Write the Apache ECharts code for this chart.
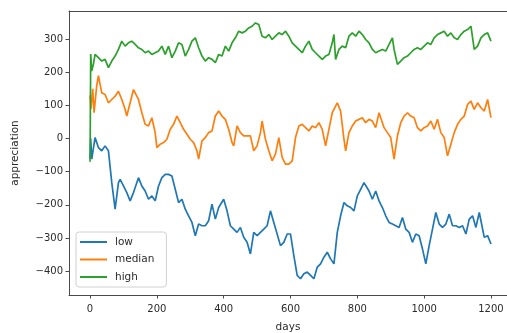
<!DOCTYPE html>
<html><head><meta charset="utf-8">
<script src="https://cdn.jsdelivr.net/npm/echarts@6/dist/echarts.min.js"></script>
<style>html,body{margin:0;padding:0;background:#fff}#c{width:507px;height:333px}</style>
</head><body><div id="c"></div>
<script>
const seriesNames = ['low', 'median', 'high'];
const xTicks = [0, 200, 400, 600, 800, 1000, 1200];
const yTicks = [-400, -300, -200, -100, 0, 100, 200, 300];

const lowDays = [0,2,5,15,25,35,45,55,65,75,85,90,100,110,120,130,145,155,165,175,185,195,205,215,225,235,245,255,265,275,285,295,305,315,325,335,345,355,365,375,385,400,410,420,430,440,450,460,470,480,490,500,510,520,530,540,550,560,570,580,590,600,610,620,630,640,650,660,670,680,690,700,710,720,730,740,750,760,770,780,790,800,810,820,825,835,845,855,865,875,885,895,905,915,925,935,945,955,965,975,985,995,1005,1015,1025,1035,1045,1055,1065,1075,1085,1095,1105,1115,1125,1135,1145,1155,1165,1170,1180,1190,1200];
const lowValues = [-60,0,-62,3,-27,-37,-22,-37,-133,-213,-133,-123,-143,-163,-188,-163,-118,-143,-158,-183,-173,-188,-143,-118,-108,-108,-113,-153,-193,-183,-213,-233,-253,-293,-258,-263,-263,-248,-198,-243,-208,-183,-218,-263,-273,-283,-268,-298,-313,-348,-283,-293,-283,-273,-263,-218,-253,-288,-323,-313,-288,-288,-353,-413,-423,-408,-403,-413,-423,-388,-378,-358,-343,-363,-378,-283,-233,-193,-203,-208,-218,-173,-153,-133,-128,-158,-183,-158,-188,-208,-233,-253,-258,-263,-268,-238,-273,-283,-313,-288,-293,-333,-378,-323,-273,-223,-258,-268,-258,-228,-263,-263,-268,-263,-288,-243,-233,-268,-223,-248,-298,-293,-318];

const medianDays = [0,3,8,12,20,25,35,45,55,65,75,85,95,105,110,120,130,135,145,155,165,175,185,195,200,210,220,230,240,250,260,270,280,290,300,310,320,325,335,345,355,365,375,385,395,405,415,425,430,440,450,460,470,480,490,500,510,515,525,535,545,555,565,575,585,595,605,615,625,635,645,655,665,675,685,695,705,715,725,735,740,750,760,765,775,785,795,805,815,825,835,845,855,865,870,880,890,900,910,920,930,940,950,960,970,980,990,1000,1010,1020,1030,1040,1050,1060,1070,1080,1090,1100,1110,1120,1130,1140,1150,1160,1170,1180,1190,1200];
const medianValues = [130,90,150,78,160,190,138,133,108,118,128,143,118,88,68,108,148,153,118,78,43,38,63,18,-27,-17,-12,-2,28,43,68,48,28,13,-2,-12,-37,-62,-7,3,18,23,68,83,68,58,28,-12,-22,38,18,8,8,8,-37,-22,18,53,-2,-37,-67,-47,3,-57,-77,-77,-67,3,38,43,33,23,38,33,48,28,-22,28,78,98,108,83,-2,-37,18,38,53,58,63,48,58,53,33,78,83,33,18,3,-62,8,48,68,78,68,63,33,23,33,38,53,28,58,18,3,-52,-17,18,43,58,68,103,113,88,108,93,83,118,63];

const highDays = [0,2,5,10,15,25,35,45,55,65,75,85,95,105,115,125,135,145,155,165,175,185,195,205,215,225,235,245,255,265,275,285,295,305,315,325,335,345,355,365,375,385,395,405,415,425,435,445,455,465,475,485,495,505,515,525,535,545,555,565,575,585,595,605,615,625,635,645,655,665,675,685,695,705,715,725,730,735,745,755,765,775,785,795,805,815,825,835,845,855,865,875,885,895,905,910,920,930,940,950,960,970,980,990,1000,1010,1020,1030,1040,1050,1060,1070,1080,1090,1100,1110,1120,1130,1140,1150,1160,1170,1180,1190,1200];
const highValues = [-70,255,204,224,254,244,234,239,214,234,249,269,294,279,289,294,284,274,269,259,264,254,259,264,279,254,279,244,264,289,284,249,269,294,304,274,249,234,244,239,229,254,249,279,264,289,304,324,319,324,334,339,349,344,309,304,314,299,309,319,314,324,309,289,279,269,259,279,294,269,259,249,239,249,254,289,314,239,269,279,274,309,319,309,324,314,299,289,269,259,264,269,264,284,304,269,224,234,244,249,259,269,274,269,279,289,284,304,314,319,324,309,319,304,299,314,324,329,339,269,279,304,314,319,294];

const colors = ['#1f77b4', '#ff7f0e', '#2ca02c'];
const zip = (d, v) => d.map((x, i) => [x, v[i]]);
const dataSets = [zip(lowDays, lowValues), zip(medianDays, medianValues), zip(highDays, highValues)];
const fmt = v => (v < 0 ? '\u2212' + Math.abs(v) : String(v));
const font = 'DejaVu Sans';
const spine = '#4a4a4a';
const txt = '#2b2b2b';

const chart = echarts.init(document.getElementById('c'), null, {renderer: 'canvas'});
chart.setOption({
  animation: false,
  backgroundColor: '#fff',
  grid: {left: 69, top: 11, right: 0, bottom: 38, show: false, containLabel: false, outerBoundsMode: 'none'},
  legend: {
    orient: 'vertical', left: 76, top: 232,
    data: seriesNames.map(n => ({name: n, icon: 'rect'})),
    itemWidth: 27, itemHeight: 2, itemGap: 5.5,
    padding: [4, 12, 4, 4],
    backgroundColor: 'rgba(255,255,255,0.8)', borderColor: '#d0d0d0', borderWidth: 1, borderRadius: 3,
    textStyle: {fontFamily: font, fontSize: 10.5, color: txt, padding: [0, 0, 0, 3], lineHeight: 12}
  },
  xAxis: [{
    type: 'value', min: -63, max: 1248,
    name: 'days', nameLocation: 'middle', nameGap: 27,
    nameTextStyle: {fontFamily: font, fontSize: 10.5, color: txt},
    axisLine: {show: true, onZero: false, lineStyle: {color: spine, width: 1}},
    axisTick: {show: true, length: 3.5, customValues: xTicks, lineStyle: {color: spine}},
    axisLabel: {customValues: xTicks, fontFamily: font, fontSize: 10, color: txt, margin: 9, formatter: fmt},
    splitLine: {show: false}
  }, {
    type: 'value', position: 'top', min: -63, max: 1248,
    axisLine: {show: true, onZero: false, lineStyle: {color: spine, width: 1}},
    axisTick: {show: false}, axisLabel: {show: false}, splitLine: {show: false}
  }],
  yAxis: {
    type: 'value', min: -472, max: 385,
    name: 'appreciation', nameLocation: 'middle', nameGap: 48, nameRotate: 90,
    nameTextStyle: {fontFamily: font, fontSize: 10.5, color: txt},
    axisLine: {show: true, onZero: false, lineStyle: {color: spine, width: 1}},
    axisTick: {show: true, length: 3.5, customValues: yTicks, lineStyle: {color: spine}},
    axisLabel: {customValues: yTicks, fontFamily: font, fontSize: 10, color: txt, margin: 6, formatter: fmt},
    splitLine: {show: false}
  },
  series: seriesNames.map((n, i) => ({
    name: n, type: 'line', data: dataSets[i], showSymbol: false, symbol: 'none',
    color: colors[i], lineStyle: {color: colors[i], width: 1.7}, z: 2 + i
  }))
});
</script></body></html>
